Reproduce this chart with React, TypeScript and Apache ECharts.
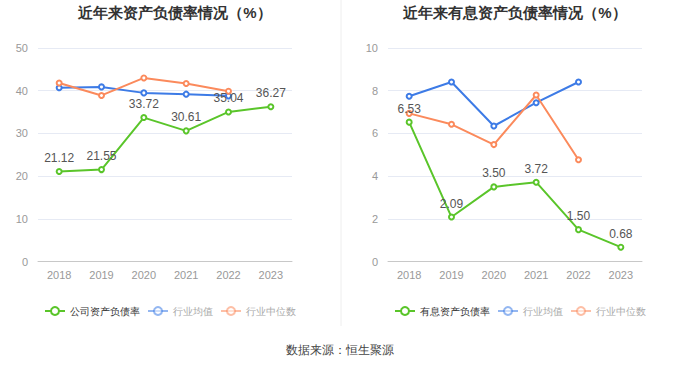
import React, { useEffect, useRef } from "react";
import * as echarts from "echarts";

const years = ["2018", "2019", "2020", "2021", "2022", "2023"];
const companyDebt = [21.12, 21.55, 33.72, 30.61, 35.04, 36.27];
const industryAvgDebt = [40.7, 40.9, 39.5, 39.2, 38.8, null];
const industryMedDebt = [41.8, 38.9, 43.0, 41.7, 39.9, null];
const companyInterest = [6.53, 2.09, 3.5, 3.72, 1.5, 0.68];
const industryAvgInterest = [7.74, 8.41, 6.35, 7.44, 8.41, null];
const industryMedInterest = [6.94, 6.43, 5.48, 7.8, 4.77, null];

const GREEN = "#5ac52a";
const BLUE = "#3d7be6";
const ORANGE = "#fb8a5c";

export default function App() {
  const ref = useRef<HTMLDivElement>(null);
  useEffect(() => {
    document.body.style.margin = "0";
    const chart = echarts.init(ref.current!, undefined, { renderer: "svg" });
    const axisX = (gi: number) => ({
      type: "category",
      gridIndex: gi,
      data: years,
      axisLine: { lineStyle: { color: "#c8c8c8" } },
      axisTick: { show: false },
      axisLabel: { color: "#999", fontSize: 11, margin: 8 },
    });
    const axisY = (gi: number, max: number, interval: number) => ({
      type: "value",
      gridIndex: gi,
      min: 0,
      max,
      interval,
      axisLine: { show: false },
      axisTick: { show: false },
      axisLabel: { color: "#999", fontSize: 11, margin: 10 },
      splitLine: { lineStyle: { color: "#e6eaf4" } },
    });
    const line = (name: string, data: any[], color: string, gi: number, label: boolean) => ({
      name,
      type: "line",
      xAxisIndex: gi,
      yAxisIndex: gi,
      data,
      symbol: "emptyCircle",
      symbolSize: 5,
      color,
      lineStyle: { width: 2, color },
      itemStyle: { color, borderWidth: 1.5 },
      label: label
        ? { show: true, position: "top", color: "#555", fontSize: 12, formatter: (p: any) => p.value.toFixed(2), distance: 4 }
        : { show: false },
      z: label ? 3 : 2,
    });
    const legendItems = (first: string) => [
      { name: first, textStyle: { color: "#333" } },
      { name: "行业均值", textStyle: { color: "#aaa" }, itemStyle: { opacity: 0.55 }, lineStyle: { opacity: 0.55 } },
      { name: "行业中位数", textStyle: { color: "#aaa" }, itemStyle: { opacity: 0.55 }, lineStyle: { opacity: 0.55 } },
    ];
    const legendBase = { top: 306, width: 300, padding: 0, itemWidth: 20, itemHeight: 10, itemGap: 7, textStyle: { fontSize: 10 } };
    chart.setOption({
      animation: false,
      title: [
        { text: "近年来资产负债率情况（%）", left: 170, top: 0, textAlign: "center", textStyle: { fontSize: 15, fontWeight: "bold", color: "#333" } },
        { text: "近年来有息资产负债率情况（%）", left: 510, top: 0, textAlign: "center", textStyle: { fontSize: 15, fontWeight: "bold", color: "#333" } },
      ],
      grid: [
        { left: 38, width: 254, top: 48, height: 213.7 },
        { left: 388, width: 254, top: 48, height: 213.7 },
      ],
      xAxis: [axisX(0), axisX(1)],
      yAxis: [axisY(0, 50, 10), axisY(1, 10, 2)],
      legend: [
        { ...legendBase, left: 44, data: legendItems("公司资产负债率") },
        { ...legendBase, left: 394, data: legendItems("有息资产负债率") },
      ],
      graphic: [
        { type: "line", shape: { x1: 341, y1: 0, x2: 341, y2: 326 }, style: { stroke: "#eeeeee", lineWidth: 1 } },
        { type: "text", left: "center", top: 344, style: { text: "数据来源：恒生聚源", fontSize: 12, fill: "#444" } },
      ],
      series: [
        line("公司资产负债率", companyDebt, GREEN, 0, true),
        line("行业均值", industryAvgDebt, BLUE, 0, false),
        line("行业中位数", industryMedDebt, ORANGE, 0, false),
        line("有息资产负债率", companyInterest, GREEN, 1, true),
        line("行业均值", industryAvgInterest, BLUE, 1, false),
        line("行业中位数", industryMedInterest, ORANGE, 1, false),
      ],
    });
    return () => chart.dispose();
  }, []);
  return <div ref={ref} style={{ width: 680, height: 367 }} />;
}
